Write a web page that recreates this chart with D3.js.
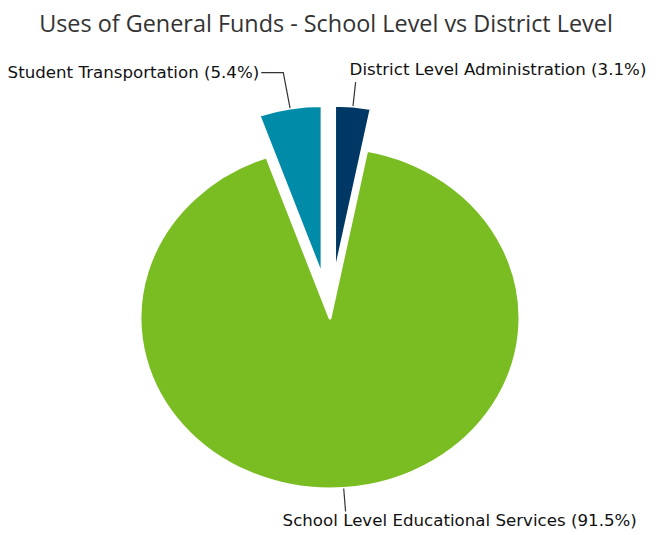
<!DOCTYPE html>
<html>
<head>
<meta charset="utf-8">
<script src="https://cdn.jsdelivr.net/npm/d3@7/dist/d3.min.js"></script>
<style>
  body { margin: 0; background: #fff; }
</style>
</head>
<body>
<div id="chart"></div>
<script>
// slices, clockwise from 12 o'clock
var categories = ["District Level Administration", "School Level Educational Services", "Student Transportation"];
var percents = [3.1, 91.5, 5.4];
var exploded = [true, false, true];
var colors = ["#003865", "#7abd22", "#008ca8"];

var width = 662, height = 535;
var cx = 330, cy = 318;
var radius = 171;
var stretchX = 1.111;   // pie and labels are drawn a bit wider than tall
var explodeBy = 42;

// leader line length and label placement relative to the elbow
var leaderLen = [24, 23, 36];
var labelPos = [
  {dx: -6, dy: -7, anchor: "start", tail: 0},
  {dx: -63, dy: 15, anchor: "start", tail: 0},
  {dx: -24, dy: 5, anchor: "end", tail: -22}
];

var svg = d3.select("#chart").append("svg")
  .attr("width", width)
  .attr("height", height);

svg.append("text")
  .attr("x", 326)
  .attr("y", 32)
  .attr("text-anchor", "middle")
  .style("font-family", "'Open Sans'")
  .style("font-size", "23.4px")
  .style("fill", "#333")
  .text("Uses of General Funds - School Level vs District Level");

var pie = d3.pie().sort(null).value(function(d) { return d; });
var arcs = pie(percents);
var arc = d3.arc().innerRadius(0).outerRadius(radius);

function midAngle(d) { return (d.startAngle + d.endAngle) / 2; }
function offsetOf(i) { return exploded[i] ? explodeBy : 0; }

// polar (unscaled) to screen
function toScreen(a, r) {
  return [cx + r * Math.sin(a) * stretchX, cy - r * Math.cos(a)];
}

var g = svg.append("g")
  .attr("transform", "translate(" + cx + "," + cy + ") scale(" + stretchX + ",1)");

g.selectAll("path.slice")
    .data(arcs)
  .enter().append("path")
    .attr("class", "slice")
    .attr("d", arc)
    .attr("transform", function(d, i) {
      var a = midAngle(d), o = offsetOf(i);
      return "translate(" + (o * Math.sin(a)) + "," + (-o * Math.cos(a)) + ")";
    })
    .style("fill", function(d, i) { return colors[i]; })
    .style("stroke", "#fff")
    .style("stroke-width", 3)
    .style("stroke-linejoin", "round")
    .attr("vector-effect", "non-scaling-stroke");

arcs.forEach(function(d, i) {
  var a = midAngle(d);
  var r0 = radius + offsetOf(i);
  var p0 = toScreen(a, r0);
  var p1 = toScreen(a, r0 + leaderLen[i]);
  var lp = labelPos[i];
  var pts = [p0, p1];
  if (lp.tail) pts.push([p1[0] + lp.tail, p1[1]]);

  svg.append("path")
    .attr("d", d3.line()(pts))
    .attr("fill", "none")
    .style("stroke", "#333")
    .style("stroke-width", 1.2);

  svg.append("text")
    .attr("transform", "translate(" + (p1[0] + lp.dx) + "," + (p1[1] + lp.dy) + ") scale(" + stretchX + ",1)")
    .attr("text-anchor", lp.anchor)
    .style("font-family", "'DejaVu Sans'")
    .style("font-size", "15px")
    .style("fill", "#111")
    .text(categories[i] + " (" + percents[i].toFixed(1) + "%)");
});
</script>
</body>
</html>
